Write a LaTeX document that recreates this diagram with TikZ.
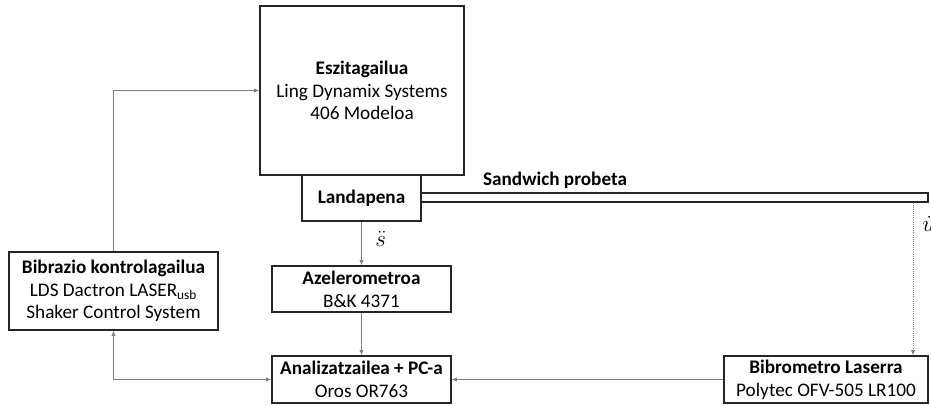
\documentclass[tikz,border=0pt]{standalone}
\usepackage{fontspec}
\setmainfont{Carlito}
\usetikzlibrary{arrows.meta}
\begin{document}
\begin{tikzpicture}[x=0.75pt,y=-0.75pt,
  box/.style={draw=black!85,line width=0.8pt,fill=white,inner sep=0pt,align=center,
    font=\fontsize{14.4}{17}\selectfont},
  conn/.style={draw=black!50,line width=0.6pt,-{Latex[length=4pt,width=3.2pt]}},
  lbl/.style={font=\fontsize{16}{17}\selectfont,inner sep=0pt}]
\useasboundingbox (0,0) rectangle (931,405);
\node[box,minimum width=204*0.75pt,minimum height=169*0.75pt] (esz) at (362,90.5)
  {\textbf{Eszitagailua}\\Ling Dynamix Systems\\406 Modeloa};
\node[box,minimum width=507*0.75pt,minimum height=9*0.75pt] (probeta) at (674.5,197.5) {};
\node[box,minimum width=119*0.75pt,minimum height=46*0.75pt] (land) at (361.5,198) {\textbf{Landapena}};
\node[font=\fontsize{14.4}{17}\selectfont\bfseries] (sand) at (555,180) {Sandwich probeta};
\node[box,minimum width=179*0.75pt,minimum height=46*0.75pt] (azel) at (361.5,289)
  {\textbf{Azelerometroa}\\B\&K 4371};
\node[box,minimum width=179*0.75pt,minimum height=47*0.75pt] (anal) at (361.5,379.5)
  {\textbf{Analizatzailea + PC-a}\\Oros OR763};
\node[box,minimum width=209*0.75pt,minimum height=78*0.75pt] (bib) at (113.5,291)
  {\textbf{Bibrazio kontrolagailua}\\LDS Dactron LASER\textsubscript{usb}\\Shaker Control System};
\node[box,minimum width=204*0.75pt,minimum height=47*0.75pt] (bibro) at (826,379.5)
  {\textbf{Bibrometro Laserra}\\Polytec OFV-505 LR100};
\coordinate (ux) at (913,0);
\draw[conn] (bib.north) |- (esz.west);
\draw[conn] (land.south) -- (azel.north);
\node[lbl,anchor=west] (sdd) at (375,239) {$\ddot{s}$};
\draw[conn] (azel.south) -- (anal.north);
\draw[conn,{Latex[length=4pt,width=3.2pt]}-{Latex[length=4pt,width=3.2pt]}] (bib.south) |- (anal.west);
\draw[conn] (bibro.west) -- (anal.east);
\draw[conn,densely dotted] (probeta.south -| ux) -- (bibro.north -| ux);
\node[lbl,anchor=west] (udot) at (922,224) {$\dot{u}$};
\end{tikzpicture}
\end{document}
